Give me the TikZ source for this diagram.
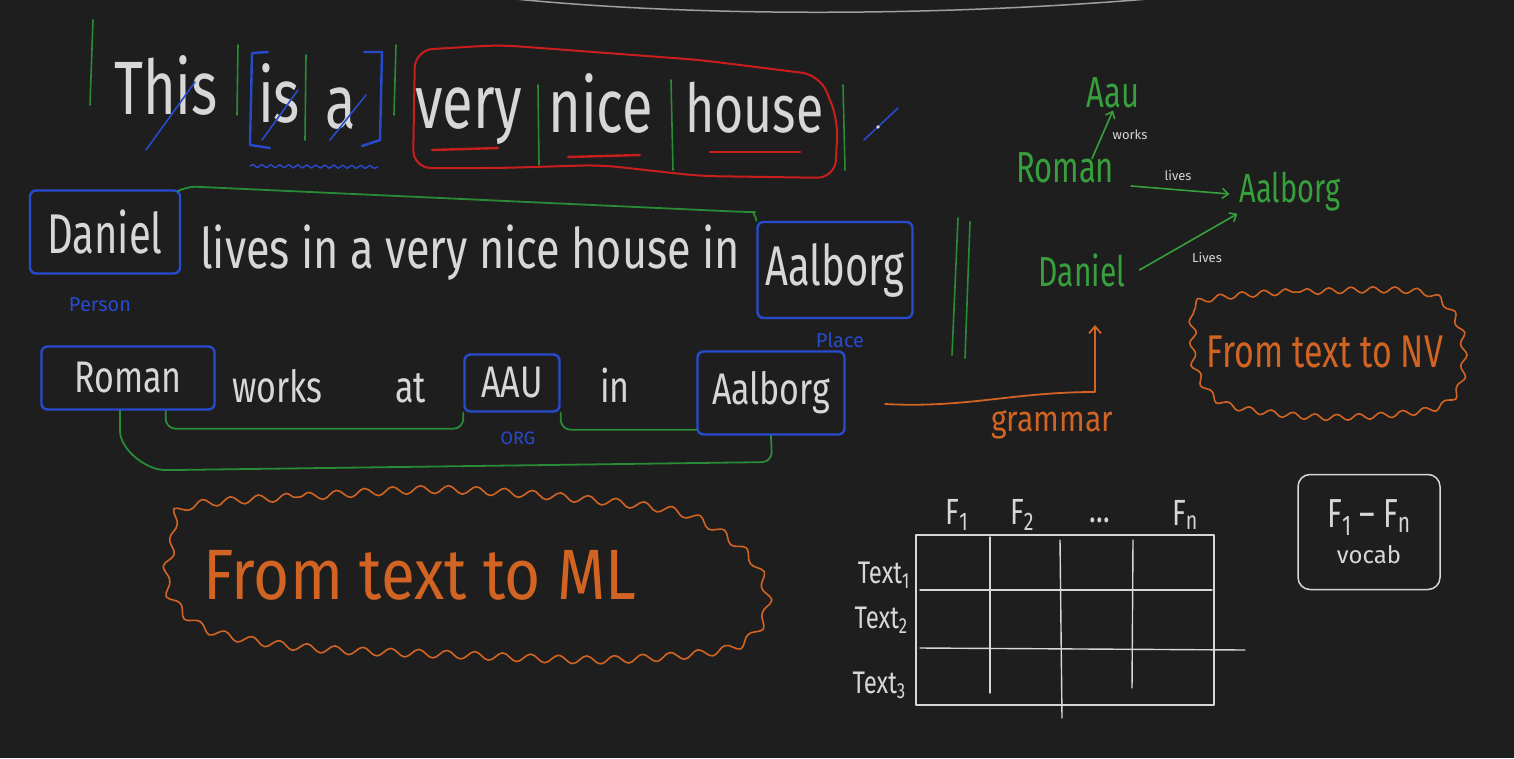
\documentclass[tikz,border=0pt]{standalone}
\usepackage{fontspec}
\setmainfont{Fira Sans}
\usetikzlibrary{arrows.meta,decorations.pathmorphing,calc}
\definecolor{bg}{RGB}{30,30,30}
\definecolor{wht}{RGB}{215,215,215}
\definecolor{grn}{RGB}{40,140,55}
\definecolor{lgrn}{RGB}{55,160,60}
\definecolor{blu}{RGB}{40,75,205}
\definecolor{rd}{RGB}{200,30,30}
\definecolor{org}{RGB}{210,100,35}
\newcommand{\tall}[2][1.35]{\scalebox{1}[#1]{#2}}
\newcommand{\fs}[1]{\fontsize{#1}{#1}\selectfont}
\begin{document}
\begin{tikzpicture}[x=1pt,y=-1pt, line cap=round, line join=round,
  hw/.style={text=wht, inner sep=0pt},
  ent/.style={draw=blu, line width=2.4pt, rounded corners=6pt, inner sep=0pt, text=wht},
  sep/.style={draw=grn, line width=1.6pt},
  link/.style={draw=grn, line width=1.8pt, rounded corners=10pt},
  tag/.style={text=blu, inner sep=0pt},
  gnode/.style={text=lgrn, inner sep=2pt},
  rel/.style={draw=lgrn, line width=1.6pt, -{Straight Barb[length=6pt,width=10pt]}},
  rlab/.style={text=wht, inner sep=0pt, font=\fs{13}},
  cloudline/.style={draw=org, line width=1.6pt, decorate, decoration={snake, amplitude=4pt, segment length=28pt}},
  grid/.style={draw=wht, line width=1.4pt}
]
\fill[bg] (0,0) rectangle (1514,758);
\useasboundingbox (0,0) rectangle (1514,758);
% top arc
\draw[wht!70!bg, line width=1.5pt] (505,-2) .. controls (700,18) and (950,16) .. (1160,-2);

% ---- row 1
\node[hw, anchor=base west, font=\fs{56}] (this) at (114,114) {\tall{This}};
\node[hw, anchor=base west, font=\fs{56}] (is) at (258,122) {\tall{is}};
\node[hw, anchor=base west, font=\fs{56}] (a) at (325,128) {\tall{a}};
\node[hw, anchor=base west, font=\fs{56}] (very) at (415,128) {\tall{very}};
\node[hw, anchor=base west, font=\fs{56}] (nice) at (548,132) {\tall{nice}};
\node[hw, anchor=base west, font=\fs{50}] (house) at (685,132) {\tall{house}};
\draw[sep] (93,20) -- (90,105);
\draw[sep] (238,45) -- (237,115);
\draw[sep] (306,55) -- (305,140);
\draw[sep] (396,45) -- (394,115);
\draw[sep] (538,85) -- (539,165);
\draw[sep] (671,80) -- (673,170);
\draw[sep] (843,85) -- (845,170);
% strikes
\draw[blu, line width=1.6pt] (146,150) -- (195,82);
\draw[blu, line width=1.6pt] (262,140) -- (298,90);
\draw[blu, line width=1.6pt] (330,140) -- (366,95);
% bracket
\draw[blu, line width=2.4pt] (268,52) -- (252,53) -- (250,145) -- (270,148);
\draw[blu, line width=2.4pt] (364,52) -- (382,52) -- (380,140) -- (362,146);
\draw[blu, line width=1.4pt, decorate, decoration={snake,amplitude=1.6pt,segment length=9pt}] (250,166) -- (378,167);
% red outline
\draw[rd, line width=2pt, rounded corners=18pt] (415,50) -- (500,45) -- (700,60) -- (820,75) -- (838,120) -- (835,178) -- (700,176) -- (600,165) -- (500,168) -- (413,168) -- cycle;
\draw[rd, line width=2.4pt] (432,150) -- (498,148);
\draw[rd, line width=2.4pt] (568,157) -- (640,155);
\draw[rd, line width=2.4pt] (710,152) -- (800,152);
% slash
\draw[blu, line width=1.6pt] (864,140) -- (898,108);
\fill[wht] (878,127) circle (1.8);

% ---- row 2
\node[ent, minimum width=150pt, minimum height=83pt, font=\fs{40}] (dan) at (105,232) {\tall[1.4]{Daniel}};
\node[hw, anchor=base west, font=\fs{40}] (lives) at (200,268) {\scalebox{1.08}[1.4]{lives in a very nice house in}};
\node[ent, minimum width=155pt, minimum height=96pt, font=\fs{40}] (aal1) at (835,270) {\tall[1.4]{Aalborg}};
\draw[link] (dan.north east) -- ++(5,-3) -- (745,212) to[out=0,in=90] (aal1.north west);
\node[tag, font=\fs{20}] (per) at (100,305) {Person};

% ---- row 3
\node[ent, minimum width=173pt, minimum height=63pt, font=\fs{34}] (rom) at (128,378) {\tall[1.3]{Roman}};
\node[hw, anchor=base west, font=\fs{34}] (wk) at (232,402) {\tall[1.3]{works}};
\node[hw, anchor=base west, font=\fs{34}] (at) at (395,402) {\tall[1.3]{at}};
\node[ent, minimum width=95pt, minimum height=57pt, font=\fs{34}] (aau) at (512,383) {\tall[1.3]{AAU}};
\node[hw, anchor=base west, font=\fs{34}] (in) at (600,402) {\tall[1.3]{in}};
\node[ent, minimum width=147pt, minimum height=83pt, font=\fs{34}] (aal2) at (771,393) {\tall[1.3]{Aalborg}};
\node[tag, font=\fs{20}] (place) at (840,340) {Place};
\node[tag, font=\fs{18}] (org) at (518,438) {ORG};
\draw[link] ([xshift=-50pt]rom.south east) -- ++(0,18) -| (aau.south west);
\draw[link] (aau.south east) |- ([yshift=6pt]aal2.south west);
\draw[link] ([xshift=-8pt]rom.south) -- ++(0,10) to[out=-90,in=180] (175,470) -- (772,462) -- (aal2.south);

% cloud ML
\draw[cloudline] plot[smooth cycle] coordinates {(178,508) (300,497) (430,490) (560,498) (680,515) (745,560) (760,610) (725,648) (600,660) (450,655) (300,648) (200,630) (160,590) (165,545)};
\node[text=org, font=\fs{62}] (ml) at (420,575) {\tall[1.15]{From text to ML}};

% double lines
\draw[sep] (958,218) -- (952,355);
\draw[sep] (970,222) -- (965,358);

% ---- graph
\node[gnode, font=\fs{31}] (gaau) at (1113,93) {\tall[1.4]{Aau}};
\node[gnode, font=\fs{31}] (grom) at (1065,168) {\tall[1.4]{Roman}};
\node[gnode, font=\fs{29}] (gaal) at (1290,192) {\tall[1.4]{Aalborg}};
\node[gnode, font=\fs{30}] (gdan) at (1082,270) {\tall[1.4]{Daniel}};
\draw[rel] ([xshift=27pt,yshift=-8pt]grom.north) -- (gaau.south);
\draw[rel] ([xshift=15pt,yshift=-18pt]grom.east) -- ([xshift=-8pt,yshift=-2pt]gaal.west);
\draw[rel] ([xshift=12pt]gdan.east) -- (gaal.south west);
\node[rlab] (lw) at (1130,135) {works};
\node[rlab] (lv1) at (1178,176) {lives};
\node[rlab] (lv2) at (1207,258) {Lives};

% grammar arrow
\coordinate (gs) at (885,404);
\coordinate (ge) at (1095,325);
\draw[org, line width=1.8pt, -{Straight Barb[length=7pt,width=12pt]}] (gs) to[out=-3,in=180] (1095,392) -- (ge);
\node[text=org, font=\fs{30}] (gram) at (1052,425) {\tall[1.2]{grammar}};

% cloud NV
\draw[cloudline, decoration={snake,amplitude=3pt,segment length=22pt}] plot[smooth cycle] coordinates {(1195,302) (1300,292) (1420,293) (1455,330) (1455,385) (1425,410) (1320,418) (1220,405) (1190,370) (1188,330)};
\node[text=org, font=\fs{34}] (nv) at (1325,352) {\tall[1.35]{From text to NV}};

% ---- table
\node[draw=wht, line width=1.4pt, minimum width=298pt, minimum height=170pt, inner sep=0pt] (tbl) at (1065,620) {};
\draw[grid] (990,537) -- (990,693);
\draw[grid] (1060,540) -- (1062,718);
\draw[grid] (1133,540) -- (1132,688);
\draw[grid] (920,590) -- (1212,590);
\draw[grid] (920,648) -- (1245,650);
\node[hw, font=\fs{28}] (f1) at (957,515) {\tall[1.3]{F\textsubscript{1}}};
\node[hw, font=\fs{28}] (f2) at (1022,515) {\tall[1.3]{F\textsubscript{2}}};
\node[hw, font=\fs{28}] (fd) at (1100,520) {\tall[1.3]{\dots}};
\node[hw, font=\fs{28}] (fn) at (1185,515) {\tall[1.3]{F\textsubscript{n}}};
\node[hw, font=\fs{24}, anchor=east] (r1) at (910,575) {\tall[1.3]{Text\textsubscript{1}}};
\node[hw, font=\fs{24}, anchor=east] (r2) at (908,620) {\tall[1.3]{Text\textsubscript{2}}};
\node[hw, font=\fs{24}, anchor=east] (r3) at (906,685) {\tall[1.3]{Text\textsubscript{3}}};

% vocab box
\node[draw=wht, line width=1.5pt, rounded corners=12pt, minimum width=142pt, minimum height=115pt, text=wht, align=center, font=\fs{30}] (voc) at (1369,532) {\tall{F\textsubscript{1} -- F\textsubscript{n}}\\[6pt] {\fs{24}vocab}};
\end{tikzpicture}
\end{document}
